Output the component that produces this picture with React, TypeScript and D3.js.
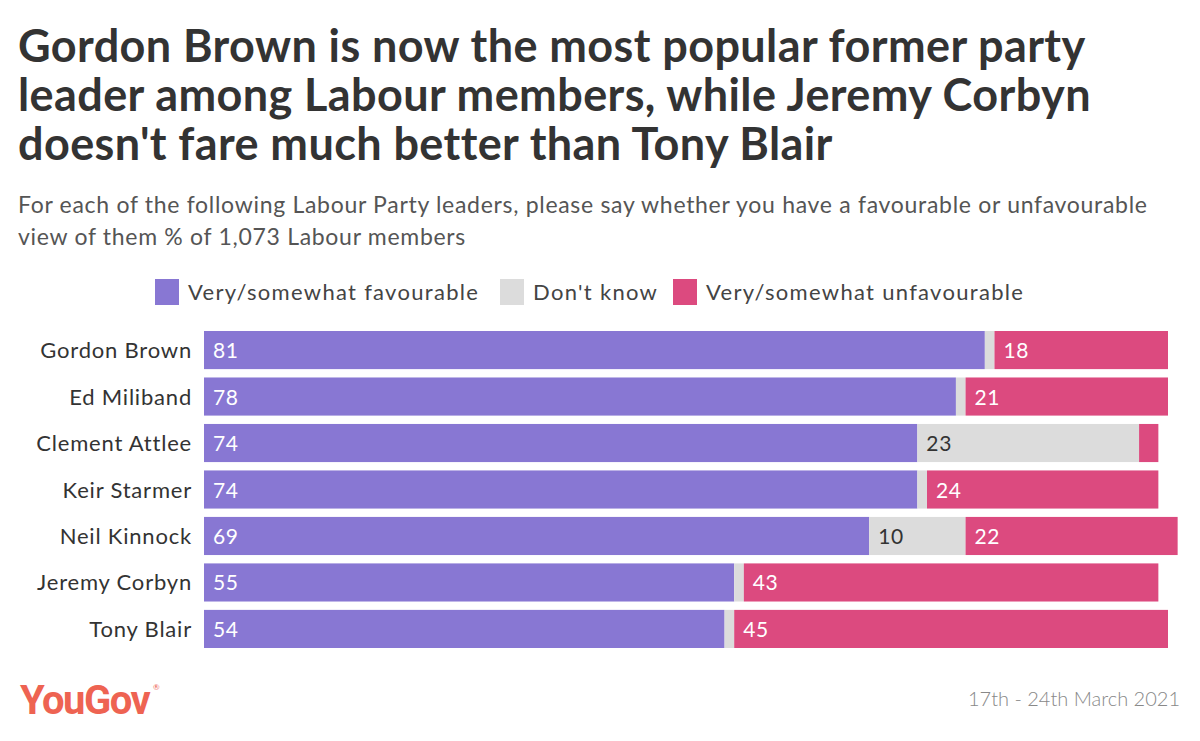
import * as d3 from 'd3';
import { useEffect, useRef } from 'react';

const leaders = ['Gordon Brown', 'Ed Miliband', 'Clement Attlee', 'Keir Starmer', 'Neil Kinnock', 'Jeremy Corbyn', 'Tony Blair'];
const favourable = [81, 78, 74, 74, 69, 55, 54];
const dontKnow = [1, 1, 23, 1, 10, 1, 1];
const unfavourable = [18, 21, 2, 24, 22, 43, 45];

const seriesNames = ['Very/somewhat favourable', "Don't know", 'Very/somewhat unfavourable'];
const seriesColors = ['#8877d3', '#dcdcdc', '#dc4a7f'];
const labelColors = ['#ffffff', '#333333', '#ffffff'];

const titleLines = [
  'Gordon Brown is now the most popular former party',
  'leader among Labour members, while Jeremy Corbyn',
  "doesn't fare much better than Tony Blair",
];
const subtitleLines = [
  'For each of the following Labour Party leaders, please say whether you have a favourable or unfavourable',
  'view of them % of 1,073 Labour members',
];

const W = 1200;
const H = 741;
const FONT = 'Lato, "Open Sans", sans-serif';

const App = () => {
  const ref = useRef<SVGSVGElement | null>(null);

  useEffect(() => {
    if (!ref.current) return;
    const svg = d3.select(ref.current);
    svg.selectAll('*').remove();

    svg.append('rect').attr('width', W).attr('height', H).attr('fill', '#fff');

    // title
    svg.append('g')
      .selectAll('text')
      .data(titleLines)
      .enter().append('text')
      .attr('x', 18)
      .attr('y', (_, i) => 62 + i * 49)
      .attr('font-family', FONT)
      .attr('font-weight', 700)
      .attr('font-size', 45)
      .attr('letter-spacing', 0.4)
      .attr('fill', '#333')
      .text(d => d);

    svg.append('g')
      .selectAll('text')
      .data(subtitleLines)
      .enter().append('text')
      .attr('x', 18)
      .attr('y', (_, i) => 213 + i * 32)
      .attr('font-family', FONT)
      .attr('font-size', 23)
      .attr('letter-spacing', 0.7)
      .attr('fill', '#555')
      .text(d => d);

    // legend
    const legendX = [155, 500, 673];
    const lg = svg.append('g');
    seriesNames.forEach((name, i) => {
      lg.append('rect')
        .attr('x', legendX[i]).attr('y', 279)
        .attr('width', 24).attr('height', 26)
        .attr('fill', seriesColors[i]);
      lg.append('text')
        .attr('x', legendX[i] + 33).attr('y', 300)
        .attr('font-family', FONT).attr('font-size', 22)
        .attr('letter-spacing', 1.3)
        .attr('fill', '#444')
        .text(name);
    });

    // bars
    const x = d3.scaleLinear().domain([0, 100]).range([204, 1168]);
    const y = d3.scaleBand().domain(leaders).range([331, 648]).paddingInner(0.18).paddingOuter(0);

    const rows = leaders.map((name, i) => ({ name, values: [favourable[i], dontKnow[i], unfavourable[i]] }));
    const stacked = rows.flatMap(r => {
      let acc = 0;
      return r.values.map((v, k) => {
        const seg = { name: r.name, k, v, x0: acc, x1: acc + v };
        acc += v;
        return seg;
      });
    });

    const g = svg.append('g');
    g.selectAll('rect')
      .data(stacked)
      .enter().append('rect')
      .attr('x', d => x(d.x0))
      .attr('y', d => y(d.name)!)
      .attr('width', d => x(d.x1) - x(d.x0))
      .attr('height', y.bandwidth())
      .attr('fill', d => seriesColors[d.k]);

    g.selectAll('text.val')
      .data(stacked.filter(d => d.v >= 5))
      .enter().append('text')
      .attr('class', 'val')
      .attr('x', d => x(d.x0) + 9)
      .attr('y', d => y(d.name)! + y.bandwidth() / 2 + 8)
      .attr('font-family', FONT)
      .attr('font-size', 21)
      .attr('letter-spacing', 0.6)
      .attr('fill', d => labelColors[d.k])
      .text(d => d.v);

    // category labels
    svg.append('g')
      .selectAll('text')
      .data(leaders)
      .enter().append('text')
      .attr('x', 192)
      .attr('y', d => y(d)! + y.bandwidth() / 2 + 8)
      .attr('text-anchor', 'end')
      .attr('font-family', FONT)
      .attr('font-size', 22)
      .attr('letter-spacing', 0.8)
      .attr('fill', '#333')
      .text(d => d);

    // footer
    svg.append('text')
      .attr('x', 20).attr('y', 714)
      .attr('font-family', '"Liberation Sans Narrow", "Roboto", sans-serif')
      .attr('font-weight', 700)
      .attr('font-size', 40)
      .attr('letter-spacing', -1.5)
      .attr('fill', '#ee6352')
      .text('YouGov');
    svg.append('text')
      .attr('x', 153).attr('y', 690)
      .attr('font-family', FONT)
      .attr('font-size', 8)
      .attr('fill', '#ee6352')
      .text('®');

    svg.append('text')
      .attr('x', 1180).attr('y', 706)
      .attr('text-anchor', 'end')
      .attr('font-family', FONT)
      .attr('font-weight', 300)
      .attr('font-size', 20)
      .attr('fill', '#888')
      .text('17th - 24th March 2021');
  }, []);

  return (
    <div style={{ margin: -8 }}>
      <svg ref={ref} width={W} height={H} />
    </div>
  );
};

export default App;
